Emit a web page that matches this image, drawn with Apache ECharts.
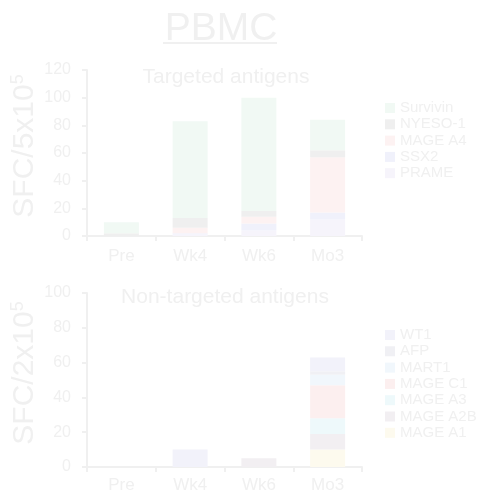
<!DOCTYPE html>
<html>
<head>
<meta charset="utf-8">
<script src="https://cdn.jsdelivr.net/npm/echarts@6/dist/echarts.min.js"></script>
<style>
  html, body { margin: 0; padding: 0; background: #ffffff; }
  #chart { width: 478px; height: 500px; }
</style>
</head>
<body>
<div id="chart"></div>
<script>
// Time points shared by both panels
const timepoints = ['Pre', 'Wk4', 'Wk6', 'Mo3'];

// Targeted antigens (SFC per 5x10^5 PBMC), stacked bottom to top
const targetedNames = ['PRAME', 'SSX2', 'MAGE A4', 'NYESO-1', 'Survivin'];
const prame    = [0, 1, 4, 12];
const ssx2     = [0, 1, 5, 5];
const mageA4   = [0, 4, 5, 40];
const nyeso1   = [2, 7, 4, 5];
const survivin = [8, 70, 82, 22];
const targetedValues = [prame, ssx2, mageA4, nyeso1, survivin];
const targetedColors = ['#f6f4fb', '#f0f1fb', '#fdf2f2', '#efefef', '#f1f9f4'];

// Non-targeted antigens (SFC per 2x10^5 PBMC), stacked bottom to top
const nonTargetedNames = ['MAGE A1', 'MAGE A2B', 'MAGE A3', 'MAGE C1', 'MART1', 'AFP', 'WT1'];
const mageA1  = [0, 0, 0, 10];
const mageA2B = [0, 0, 5, 9];
const mageA3  = [0, 0, 0, 9];
const mageC1  = [0, 0, 0, 19];
const mart1   = [0, 0, 0, 6];
const afp     = [0, 0, 0, 2];
const wt1     = [0, 10, 0, 8];
const nonTargetedValues = [mageA1, mageA2B, mageA3, mageC1, mart1, afp, wt1];
const nonTargetedColors = ['#fdfaee', '#f2eff2', '#eef9fb', '#fcefef', '#f1f7fc', '#f0f0f4', '#f2f2fa'];

// Tick settings
const topMax = 120, bottomMax = 100, tickStep = 20;

const ink = '#f0f0f0';
const font = 'Liberation Sans, Arial, sans-serif';

function xAxisFor(gridIndex, offset) {
  return {
    type: 'category', gridIndex, data: timepoints, offset,
    axisLine: { lineStyle: { color: ink, width: 2 } },
    axisTick: { show: true, length: 5, alignWithLabel: false, lineStyle: { color: ink, width: 2 } },
    axisLabel: { color: ink, fontSize: 17, fontFamily: font, margin: 6 }
  };
}

function yAxisFor(gridIndex, max, title) {
  return {
    type: 'value', gridIndex, min: 0, max, interval: tickStep,
    name: title, nameLocation: 'middle', nameGap: 46, nameRotate: 90, nameMoveOverlap: false,
    nameTextStyle: {
      color: ink, fontSize: 30, fontFamily: font, padding: [0, 0, 0, 14],
      rich: { sup: { fontSize: 18, color: ink, fontFamily: font, verticalAlign: 'top', padding: [0, 0, 14, 0] } }
    },
    axisLine: { show: true, lineStyle: { color: ink, width: 2 } },
    axisTick: { show: true, length: 5, lineStyle: { color: ink, width: 2 } },
    axisLabel: { color: ink, fontSize: 16, fontFamily: font, margin: 16 },
    splitLine: { show: false }
  };
}

function stackSeries(names, values, colors, axisIndex, stackId) {
  return names.map((n, i) => ({
    name: n, type: 'bar', stack: stackId,
    xAxisIndex: axisIndex, yAxisIndex: axisIndex,
    barWidth: 35, data: values[i],
    itemStyle: { color: colors[i] },
    emphasis: { disabled: true }
  }));
}

const legendText = { color: ink, fontSize: 15, fontFamily: font, lineHeight: 16 };

const option = {
  animation: false,
  backgroundColor: '#ffffff',
  title: [
    { text: 'PBMC', left: 216, top: 5, textAlign: 'center',
      textStyle: { color: ink, fontSize: 39, fontWeight: 'normal', fontFamily: font } },
    { text: 'Targeted antigens', left: 221, top: 62, textAlign: 'center',
      textStyle: { color: ink, fontSize: 21, fontWeight: 'normal', fontFamily: font } },
    { text: 'Non-targeted antigens', left: 220, top: 282, textAlign: 'center',
      textStyle: { color: ink, fontSize: 21, fontWeight: 'normal', fontFamily: font } }
  ],
  graphic: [
    // underline of the panel heading
    { type: 'line', shape: { x1: 163, y1: 43, x2: 277, y2: 43 }, style: { stroke: ink, lineWidth: 2 } }
  ],
  grid: [
    { left: 87, right: 116, top: 70, bottom: 264, containLabel: false, outerBoundsMode: 'none' },
    { left: 87, right: 116, top: 293, bottom: 33, containLabel: false, outerBoundsMode: 'none' }
  ],
  xAxis: [xAxisFor(0, 6), xAxisFor(1, 4)],
  yAxis: [
    yAxisFor(0, topMax, 'SFC/5x10{sup|5}'),
    yAxisFor(1, bottomMax, 'SFC/2x10{sup|5}')
  ],
  legend: [
    { orient: 'vertical', left: 385, top: 100, padding: 0, itemWidth: 10, itemHeight: 10, itemGap: 0.3,
      icon: 'rect', textStyle: legendText, selectedMode: false,
      data: targetedNames.slice().reverse() },
    { orient: 'vertical', left: 385, top: 327, padding: 0, itemWidth: 10, itemHeight: 10, itemGap: 0.3,
      icon: 'rect', textStyle: legendText, selectedMode: false,
      data: nonTargetedNames.slice().reverse() }
  ],
  series: [
    ...stackSeries(targetedNames, targetedValues, targetedColors, 0, 'targeted'),
    ...stackSeries(nonTargetedNames, nonTargetedValues, nonTargetedColors, 1, 'nontargeted')
  ]
};

const chart = echarts.init(document.getElementById('chart'), null, { renderer: 'canvas' });
chart.setOption(option);
</script>
</body>
</html>
